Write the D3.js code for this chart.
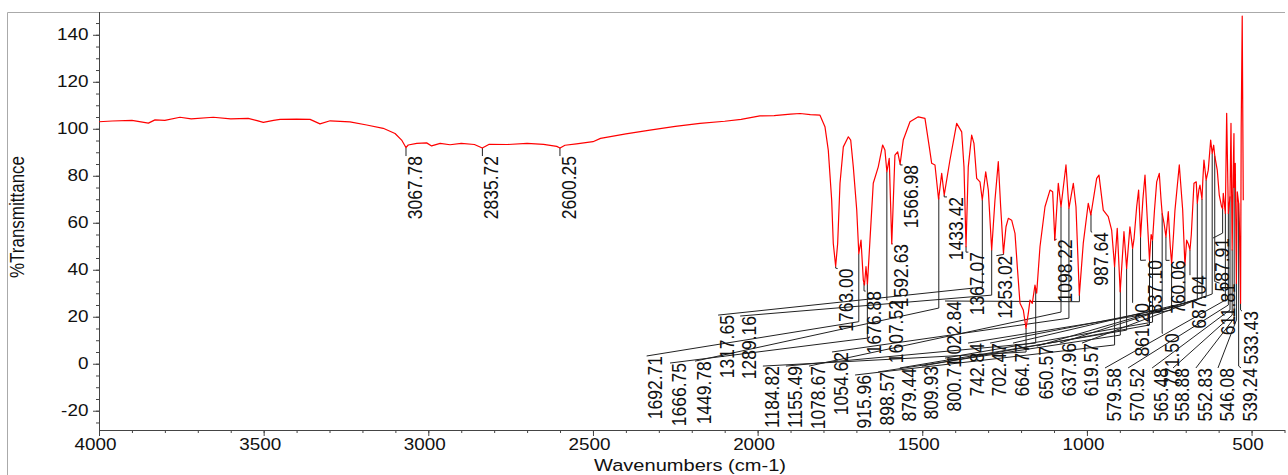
<!DOCTYPE html>
<html lang="en">
<head>
<meta charset="UTF-8" />
<title>IR spectrum</title>
<script src="https://d3js.org/d3.v7.min.js"></script>
<style>
  html, body { margin: 0; padding: 0; background: #fff; }
  svg { display: block; font-family: "Liberation Sans", Arial, sans-serif; }
  .axis path, .axis line { stroke: #444; }
  .axis text { fill: #111; font-size: 16px; }
</style>
</head>
<body>
<svg id="chart"></svg>
<script>
// Spectrum (cm-1 and %T)
const wavenumbers = [
  4000, 3960, 3900, 3850, 3830, 3800, 3754, 3720, 3653, 3600, 3547, 3520, 3501, 3470, 3450, 3400,
  3359, 3329, 3298, 3238, 3187, 3137, 3101, 3081, 3068, 3061, 3035, 3005, 2990, 2964, 2934, 2900,
  2860, 2836, 2815, 2760, 2700, 2650, 2610, 2600, 2585, 2550, 2500, 2477, 2400, 2327, 2250, 2175,
  2100, 2050, 1993, 1950, 1900, 1871, 1840, 1810.6, 1795.5, 1785.4, 1775.1, 1770.2, 1763, 1756.9,
  1749.8, 1739.7, 1724.5, 1717.3, 1709.4, 1699, 1692.7, 1686, 1679, 1675.5, 1670.9, 1666.5, 1658.8,
  1648.8, 1633.6, 1620.3, 1613.4, 1607.5, 1600.3, 1592.6, 1583, 1574.7, 1567.2, 1557.7, 1537.3,
  1512.1, 1491.8, 1478.7, 1471.4, 1461.4, 1450.5, 1441, 1433.4, 1415.9, 1395.5, 1380.3, 1373.3,
  1367.1, 1360.3, 1350, 1343, 1334.8, 1324.7, 1317.7, 1307.3, 1299.4, 1289.2, 1279.2, 1269.1,
  1261.9, 1253.5, 1245.7, 1238.7, 1228.5, 1218.4, 1211.4, 1203.2, 1193.2, 1185, 1178, 1172.9,
  1165.9, 1157.7, 1152.6, 1142.5, 1127.3, 1112.1, 1104, 1097.5, 1086.9, 1078.7, 1063.6, 1054.6,
  1041.3, 1033.2, 1023, 1011.1, 995.9, 988, 970.4, 963.4, 950.4, 935.2, 924.9, 916, 907.9, 899,
  887.5, 879.4, 869.4, 861.2, 857, 848.9, 843, 837.1, 830, 823.6, 818, 810, 805, 800.7, 795, 788.1,
  780.2, 775, 771.5, 766, 760, 756, 752.9, 747, 742.8, 737, 732.6, 719.5, 709.2, 702.4, 697.1, 692,
  687, 683, 674.9, 668, 664.8, 660, 656.7, 650.6, 648, 644.6, 638, 631.5, 624.2, 619.6, 615, 611.8,
  604.2, 598.1, 591, 588, 585.9, 579.6, 575.6, 570.5, 565.5, 562.5, 558.9, 556, 553.5, 552.8, 549.5,
  546.1, 543.4, 539.2, 537, 533.4, 531.5, 528.4, 525.2
];
const transmittance = [
  103.0, 103.3, 103.6, 102.4, 103.8, 103.6, 104.9, 104.2, 104.9, 104.2, 104.4, 103.5, 102.7, 103.6, 104.0, 104.1,
  104.0, 102.1, 103.4, 102.9, 101.6, 100.2, 98.0, 95.2, 92.0, 93.1, 93.8, 94.0, 92.7, 93.8, 93.2, 93.8,
  93.3, 91.8, 93.4, 93.3, 93.8, 93.4, 92.5, 91.8, 93.0, 93.6, 94.5, 95.9, 97.8, 99.4, 101.0, 102.3,
  103.2, 104.0, 105.5, 105.6, 106.2, 106.5, 106.0, 105.8, 100.9, 90.9, 69.7, 51.2, 41.5, 51.2,
  76.8, 92.3, 96.6, 95.2, 83.8, 65.4, 46.8, 52.6, 35.6, 33.5, 41.3, 34.0, 52.6,
  76.8, 83.8, 93.1, 91.0, 81.7, 87.4, 51.0, 88.8, 90.2, 85.0, 95.2, 103.0,
  105.1, 104.4, 92.3, 85.3, 84.6, 70.0, 81.0, 71.8, 86.7, 102.3, 98.7, 83.8,
  49.8, 83.8, 97.3, 93.8, 78.9, 77.4, 69.7, 81.7, 73.9, 48.4, 69.7, 86.0,
  66.8, 47.0, 58.3, 61.9, 61.1, 55.5, 41.3, 25.7, 22.9, 15.1, 21.4, 27.1,
  25.7, 33.5, 30.0, 49.8, 66.8, 73.9, 73.2, 52.6, 76.8, 66.8, 84.6, 66.1,
  76.8, 66.8, 29.2, 51.2, 68.3, 63.3, 78.9, 80.3, 65.4, 62.6, 56.9, 41.3, 57.6, 30.6,
  56.2, 40.6, 58.3, 49.1, 53.0, 66.8, 73.9, 54.0, 70.0, 80.3, 65.0, 44.1, 55.0, 52.6, 65.0, 77.4,
  81.0, 70.0, 64.0, 60.0, 54.0, 60.0, 64.7, 50.0, 42.7, 55.0, 65.4, 84.6, 65.4, 42.0, 52.6, 51.0,
  48.4, 55.0, 76.8, 77.4, 68.3, 74.0, 76.0, 70.0, 78.2, 86.7, 78.2, 82.4, 95.2, 89.5, 93.0, 88.5,
  82.4, 71.8, 66.8, 66.0, 72.5, 64.0, 106.6, 64.0, 71.0, 102.3, 48.4, 80.0, 98.0, 75.0, 85.3,
  34.2, 73.2, 68.3, 60.0, 25.7, 100.0, 148.0, 69.6
];

// Axis ticks
const yTickValues = [-20, 0, 20, 40, 60, 80, 100, 120, 140];
const xTickValues = [4000, 3500, 3000, 2500, 2000, 1500, 1000, 500];

// Peak picks (cm-1)
const peakWavenumbers = [
  3067.78, 2835.72, 2600.25, 1763.00, 1692.71, 1676.88, 1666.75, 1607.52, 1592.63, 1566.98,
  1449.78, 1433.42, 1367.07, 1317.65, 1289.16, 1253.02, 1184.82, 1155.49, 1098.22, 1078.67,
  1054.62, 1022.84, 987.64, 915.96, 898.57, 879.44, 861.20, 837.10, 809.93, 800.71,
  771.50, 760.06, 742.84, 702.47, 687.04, 664.77, 650.57, 637.96, 619.57, 611.81,
  587.91, 579.58, 570.52, 565.48, 558.88, 552.83, 546.08, 539.24, 533.43
];

// where each peak label sits: [knee %T, label wavenumber, label top %T]
const labelLayout = [
  [88.4, 3067.78, 88.4], [88.4, 2835.72, 88.4], [88.4, 2600.25, 88.4], [40.7, 1757, 40.5],
  [17.9, 2337, 3.3], [31, 1672, 30.9], [10.9, 2266, 0.3], [27.1, 1606, 27.1], [51.2, 1590, 51.0],
  [84.6, 1560, 84.6], [23.7, 2190, 1.1], [71, 1425, 71], [47.5, 1360, 47.5], [32.6, 2120, 20.7],
  [29.2, 2053, 20.3], [46.5, 1275, 46], [5, 1984, -1], [8.8, 1914, -1], [52.6, 1092, 53],
  [22, 1844, -1], [19.4, 1774, 5], [26.4, 1431, 26.7], [56.2, 984, 56], [8, 1704, -4.8],
  [12.2, 1634, -3.5], [14.3, 1568, -1.8], [26, 860, 25.8], [44, 821, 44.1], [16.5, 1501, -1],
  [17.7, 1431, 2.4], [13, 769, 13], [44, 749, 44], [22.8, 1361, 8.8], [25, 1294, 8.8],
  [37.7, 687, 37.7], [27.1, 1224.5, 8.8], [28, 1152, 7.5], [28.8, 1082, 8.8], [29.7, 1015, 8.8],
  [35, 597, 34.3], [55.6, 617, 53.5], [27.1, 945, -1.8], [25, 875, -1.8], [22.9, 802, -1.8],
  [20.7, 738.5, -1.8], [19.4, 669, -1.8], [18.6, 602, -1.8], [-1, 532, -1.8], [22.9, 529, 22.4]
];

const W = 1288, H = 475;
const SX = 1.18; // the picture is a little wider than tall

const svg = d3.select("#chart").attr("width", W).attr("height", H);

const x = d3.scaleLinear().domain([4000, 400]).range([99, 1284.5]);
const y = d3.scaleLinear().domain([-28.2, 149.7]).range([430, 12]);

const plain = d => String(d);

// outer frame
svg.append("path")
  .attr("d", `M7.5,${H} V12.5 H1285`)
  .attr("fill", "none")
  .attr("stroke", "#aaa");

// minor ticks
svg.append("g")
  .attr("class", "axis")
  .attr("transform", "translate(99,0)")
  .call(d3.axisLeft(y).tickValues(d3.range(-25, 150, 5)).tickSize(3).tickFormat("").tickSizeOuter(0));
svg.append("g")
  .attr("class", "axis")
  .attr("transform", "translate(0,430)")
  .call(d3.axisBottom(x).tickValues(d3.range(3900, 399, -100)).tickSize(3).tickFormat("").tickSizeOuter(0));

// major ticks
const yAxis = svg.append("g")
  .attr("class", "axis")
  .attr("transform", "translate(99,0)")
  .call(d3.axisLeft(y).tickValues(yTickValues).tickFormat(plain).tickSize(6).tickSizeOuter(0));
yAxis.selectAll("text").attr("x", -9).attr("transform", `scale(${SX},1)`);

const xAxis = svg.append("g")
  .attr("class", "axis")
  .attr("transform", "translate(0,430)")
  .call(d3.axisBottom(x).tickValues(xTickValues).tickFormat(plain).tickSize(6).tickSizeOuter(0));
xAxis.selectAll("text").attr("x", -3.4).attr("y", 9).attr("transform", `scale(${SX},1)`);

// axis lines over the whole span
svg.append("line").attr("x1", 99.5).attr("x2", 99.5).attr("y1", 12).attr("y2", 430.5).attr("stroke", "#444");
svg.append("line").attr("x1", 99).attr("x2", 1285).attr("y1", 430.5).attr("y2", 430.5).attr("stroke", "#444");

// axis titles
svg.append("text")
  .attr("transform", `translate(690,471) scale(${SX},1)`)
  .attr("text-anchor", "middle")
  .attr("font-size", 17)
  .attr("fill", "#111")
  .text("Wavenumbers (cm-1)");
svg.append("text")
  .attr("transform", `translate(24,217) scale(${SX},1) rotate(-90)`)
  .attr("text-anchor", "middle")
  .attr("font-size", 17)
  .attr("fill", "#111")
  .text("%Transmittance");

// curve value at a wavenumber
const ascWn = wavenumbers.slice().reverse();
const ascT = transmittance.slice().reverse();
const valueAt = d3.scaleLinear().domain(ascWn).range(ascT);

const peaks = peakWavenumbers.map((wn, i) => ({
  wn: wn,
  t: valueAt(wn),
  knee: labelLayout[i][0],
  lx: labelLayout[i][1],
  ly: labelLayout[i][2]
}));

// leader lines
svg.append("g")
  .selectAll("path")
  .data(peaks)
  .join("path")
  .attr("d", d => `M${x(d.wn)},${y(d.t)} V${y(d.knee)} L${x(d.lx)},${y(d.ly)}`)
  .attr("fill", "none")
  .attr("stroke", "#222")
  .attr("stroke-width", 1);

// spectrum
const line = d3.line()
  .x((d, i) => x(wavenumbers[i]))
  .y(d => y(d));

svg.append("path")
  .datum(transmittance)
  .attr("d", line)
  .attr("fill", "none")
  .attr("stroke", "#ff0000")
  .attr("stroke-width", 1.2)
  .attr("stroke-linejoin", "round");

// peak labels
svg.append("g")
  .selectAll("text")
  .data(peaks)
  .join("text")
  .attr("transform", d => `translate(${x(d.lx)},${y(d.ly)}) scale(${SX},1) rotate(-90)`)
  .attr("text-anchor", "end")
  .attr("dy", "0.76em")
  .attr("font-size", 17.5)
  .attr("fill", "#111")
  .text(d => d.wn.toFixed(2));
</script>
</body>
</html>
